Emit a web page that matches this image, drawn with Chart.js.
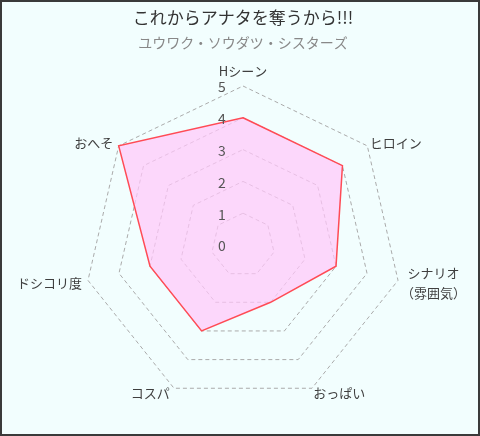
<!DOCTYPE html>
<html>
<head>
<meta charset="utf-8">
<script src="https://cdn.jsdelivr.net/npm/chart.js@4/dist/chart.umd.min.js"></script>
<style>
  html, body { margin: 0; padding: 0; }
  #wrap { width: 480px; height: 436px; box-sizing: border-box; border: 2px solid #3a3a3a; background: #f2fefe; }
</style>
</head>
<body>
<div id="wrap"><canvas id="myChart" width="476" height="432"></canvas></div>
<script>
var labels = ['Hシーン', 'ヒロイン', ['シナリオ', '（雰囲気）'], 'おっぱい', 'コスパ', 'ドシコリ度', 'おへそ'];
var scores = [4, 4, 3, 2, 3, 3, 5];
var tickValues = [0, 1, 2, 3, 4, 5];

var jpFont = '"Noto Sans CJK JP", "Noto Sans", sans-serif';

// tick labels (with 0) left of the vertical axis, and the category labels round the outside
var labelPlugin = {
  id: 'radarLabels',
  afterDatasetsDraw: function(chart) {
    var scale = chart.scales.r;
    var ctx = chart.ctx;
    ctx.save();
    ctx.font = '14px ' + jpFont;
    ctx.fillStyle = '#555';
    ctx.textAlign = 'center';
    ctx.textBaseline = 'middle';
    tickValues.forEach(function(v) {
      var p = scale.getPointPositionForValue(0, v);
      ctx.fillText(String(v), p.x - 21, p.y + 1);
    });

    ctx.font = '13px ' + jpFont;
    ctx.fillStyle = '#3f3f3f';
    labels.forEach(function(lab, i) {
      var lines = Array.isArray(lab) ? lab : [lab];
      if (i === 0) {
        var top = scale.getPointPosition(0, scale.drawingArea + 8);
        ctx.textAlign = 'center';
        ctx.textBaseline = 'bottom';
        ctx.fillText(lines[0], top.x, top.y);
        return;
      }
      var p = scale.getPointPosition(i, scale.drawingArea + 3);
      var right = p.x > scale.xCenter;
      var ax = right ? p.x : p.x - 3;
      var ay = p.y > scale.yCenter ? p.y + 2 : p.y - 1;
      ctx.textBaseline = 'middle';
      ctx.textAlign = 'left';
      var w = Math.max.apply(null, lines.map(function(t) { return ctx.measureText(t).width; }));
      var lh = 20;
      var y0 = ay - (lines.length - 1) * lh / 2;
      lines.forEach(function(t, k) {
        var tw = ctx.measureText(t).width;
        var x = right ? ax + (w - tw) / 2 : ax - w + (w - tw) / 2;
        ctx.fillText(t, x, y0 + k * lh);
      });
    });
    ctx.restore();
  }
};

var ctx = document.getElementById('myChart').getContext('2d');
var chart = new Chart(ctx, {
  type: 'radar',
  data: {
    labels: labels,
    datasets: [{
      data: scores,
      backgroundColor: 'rgba(255, 200, 250, 0.72)',
      borderColor: 'rgb(255, 75, 85)',
      borderWidth: 1.5,
      pointRadius: 0,
      fill: true
    }]
  },
  options: {
    responsive: false,
    animation: false,
    layout: { padding: { left: 22, right: 16, top: 0, bottom: 29 } },
    plugins: {
      legend: { display: false },
      title: {
        display: true,
        text: 'これからアナタを奪うから!!!',
        color: '#333',
        font: { family: jpFont, size: 17, weight: 'normal' },
        padding: { top: 5, bottom: 7 }
      },
      subtitle: {
        display: true,
        text: 'ユウワク・ソウダツ・シスターズ',
        color: '#888',
        font: { family: jpFont, size: 14 },
        padding: { bottom: 35 }
      },
      tooltip: { enabled: false }
    },
    scales: {
      r: {
        min: 0,
        max: 5,
        ticks: { display: false, stepSize: 1 },
        angleLines: { display: false },
        grid: { color: '#aaa', lineWidth: 1 },
        border: { dash: [4, 3] },
        pointLabels: { display: false }
      }
    }
  },
  plugins: [labelPlugin]
});
</script>
</body>
</html>
